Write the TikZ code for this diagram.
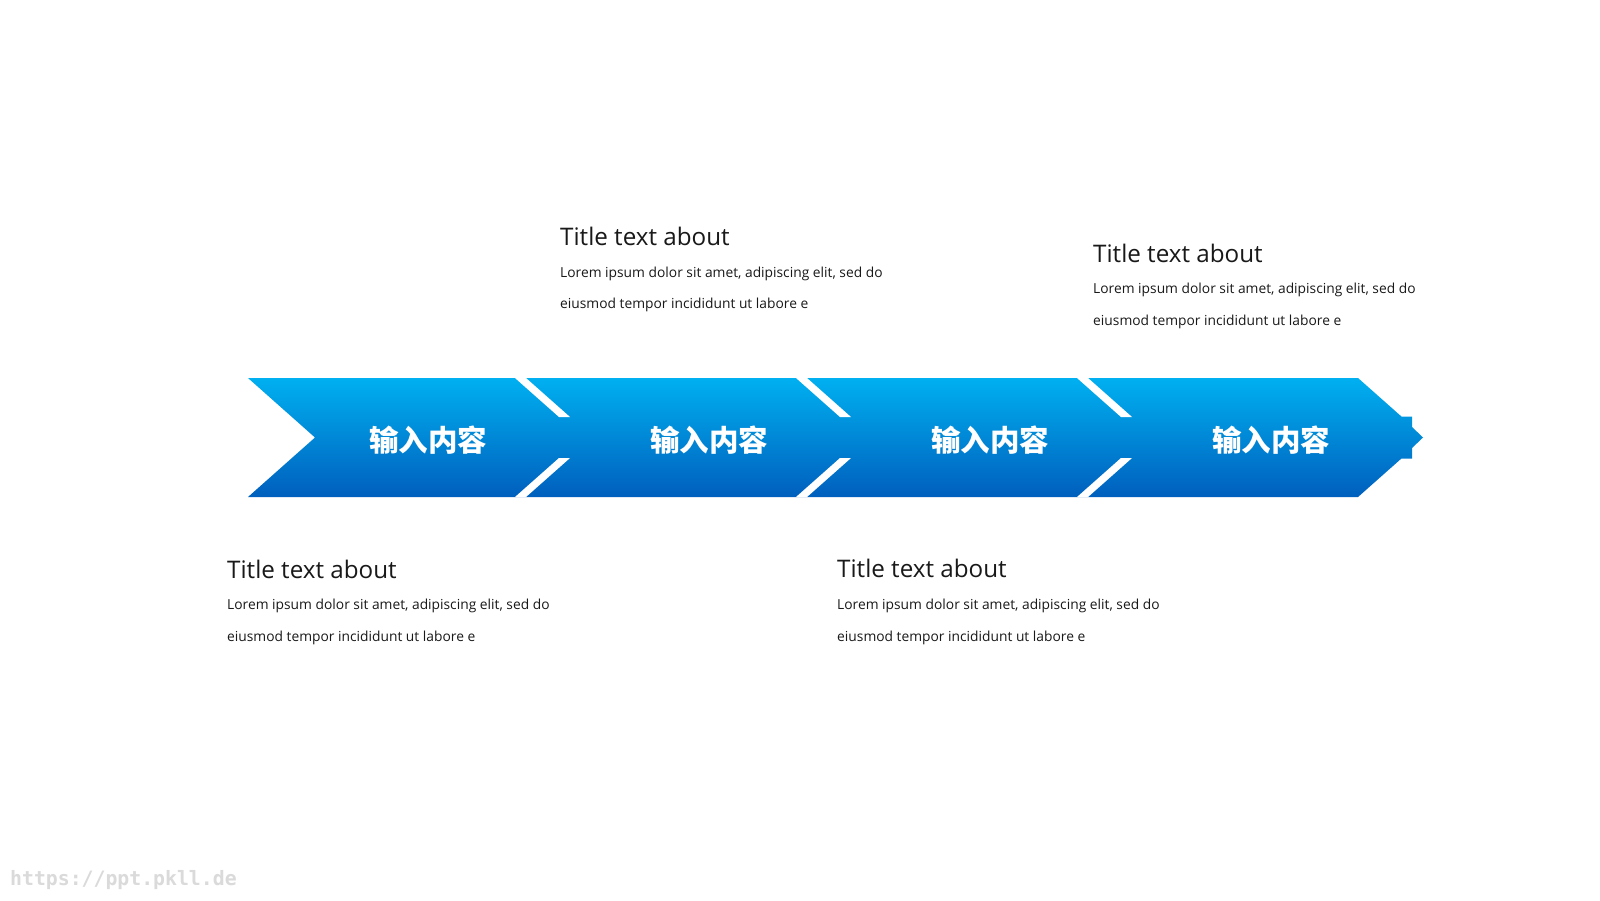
\documentclass[tikz,border=0pt]{standalone}
\usepackage{fontspec}
\setmainfont{Open Sans}
\newfontfamily\cjkfont{Noto Sans CJK SC}
\newfontfamily\wmfont{DejaVu Sans Mono}
\definecolor{bandtop}{RGB}{0,176,240}
\definecolor{bandbot}{RGB}{0,95,189}
\definecolor{wmgray}{RGB}{218,218,218}
\begin{document}
\begin{tikzpicture}[x=1pt,y=-1pt,
  title/.style={anchor=base west,inner sep=0pt,font=\fontsize{24.2}{28}\selectfont,text=black!90},
  body/.style={anchor=base west,inner sep=0pt,font=\fontsize{13.8}{18}\selectfont,text=black!90},
  label/.style={anchor=center,inner sep=0pt,text=white,font=\cjkfont\bfseries\fontsize{29.5}{32}\selectfont},
  stripe/.style={fill=white,draw=none}]
\useasboundingbox (0,0) rectangle (1600,900);
\fill[white] (0,0) rectangle (1600,900);
% blue band
\shade[top color=bandtop,bottom color=bandbot]
  (248,378) -- (1358,378) -- (1401.4,416.5) -- (1412,416.5) -- (1412,427) -- (1423,437.5)
  -- (1412,448) -- (1412,458.5) -- (1401.4,458.5) -- (1358,497) -- (248,497) -- (315,437.5) -- cycle;
% white stripes
\foreach \o in {0,281,562}{
  \fill[stripe] (515+\o,378) -- (526+\o,378) -- (570+\o,417) -- (559+\o,417) -- cycle;
  \fill[stripe] (559+\o,458) -- (570+\o,458) -- (526+\o,497) -- (515+\o,497) -- cycle;
}
% labels
\node[label] (l1) at (428,440) {输入内容};
\node[label] (l2) at (709,440) {输入内容};
\node[label] (l3) at (990,440) {输入内容};
\node[label] (l4) at (1271,440) {输入内容};
% text block A (top middle)
\node[title] (ta) at (560,245) {Title text about};
\node[body] (ba1) at (560,277) {Lorem ipsum dolor sit amet, adipiscing elit, sed do};
\node[body] (ba2) at (560,308) {eiusmod tempor incididunt ut labore e};
% text block B (top right)
\node[title] (tb) at (1093,262) {Title text about};
\node[body] (bb1) at (1093,293) {Lorem ipsum dolor sit amet, adipiscing elit, sed do};
\node[body] (bb2) at (1093,325) {eiusmod tempor incididunt ut labore e};
% text block C (bottom left)
\node[title] (tc) at (227,578) {Title text about};
\node[body] (bc1) at (227,609) {Lorem ipsum dolor sit amet, adipiscing elit, sed do};
\node[body] (bc2) at (227,641) {eiusmod tempor incididunt ut labore e};
% text block D (bottom middle)
\node[title] (td) at (837,577) {Title text about};
\node[body] (bd1) at (837,609) {Lorem ipsum dolor sit amet, adipiscing elit, sed do};
\node[body] (bd2) at (837,641) {eiusmod tempor incididunt ut labore e};
% watermark
\node[anchor=base west,inner sep=0pt,text=wmgray,font=\wmfont\bfseries\fontsize{19.8}{22}\selectfont] (wm) at (10,885) {https://ppt.pkll.de};
\end{tikzpicture}
\end{document}
